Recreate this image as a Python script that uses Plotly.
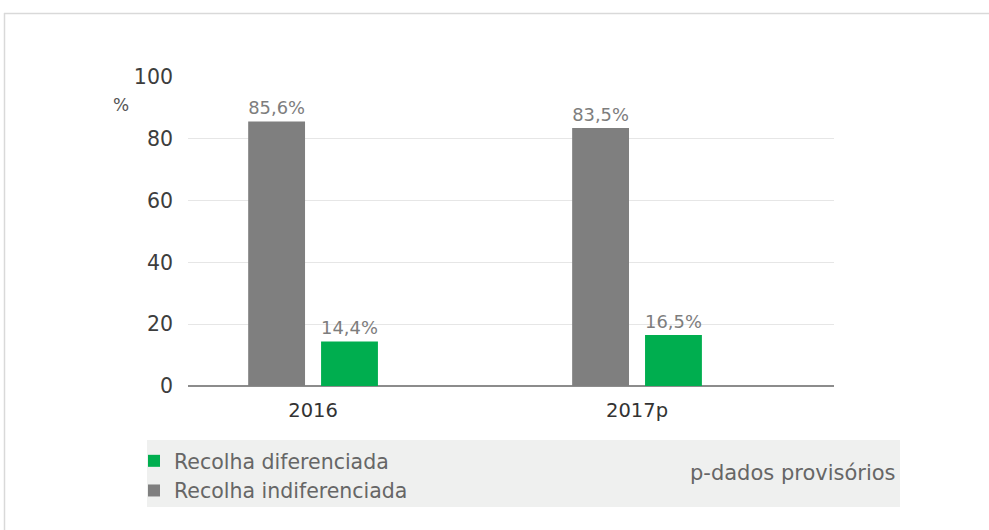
import plotly.graph_objects as go

categories = ["2016", "2017p"]
indiferenciada = [85.6, 83.5]
diferenciada = [14.4, 16.5]
ind_labels = ["85,6%", "83,5%"]
dif_labels = ["14,4%", "16,5%"]
y_ticks = [0, 20, 40, 60, 80, 100]

FONT = "DejaVu Sans"
W, H = 989, 530
# plot area in screen pixels
L, R, T, B = 188, 834, 76, 386
pw, ph = R - L, B - T

def px(x):
    return (x - L) / pw

def py(y):
    return (B - y) / ph

fig = go.Figure()
fig.add_trace(go.Bar(
    x=categories, y=indiferenciada, name="Recolha indiferenciada",
    marker=dict(color="#7f7f7f", line=dict(width=0)),
    text=ind_labels, textposition="outside",
    textfont=dict(family=FONT, size=20.5, color="#7d7d7d"),
))
fig.add_trace(go.Bar(
    x=categories, y=diferenciada, name="Recolha diferenciada",
    marker=dict(color="#00ae4f", line=dict(width=0)),
    text=dif_labels, textposition="outside",
    textfont=dict(family=FONT, size=20.5, color="#7d7d7d"),
))

shapes = [
    # frame
    dict(type="line", xref="paper", yref="paper", x0=px(4), x1=px(995), y0=py(13.5), y1=py(13.5),
         line=dict(color="#d9d9d9", width=1.5)),
    dict(type="line", xref="paper", yref="paper", x0=px(4.5), x1=px(4.5), y0=py(13), y1=py(540),
         line=dict(color="#d9d9d9", width=1.5)),
    # legend box
    dict(type="rect", xref="paper", yref="paper", x0=px(147), x1=px(900), y0=py(440), y1=py(507),
         fillcolor="#eff0ef", line=dict(width=0), layer="below"),
]

fig.update_layout(
    width=W, height=H,
    margin=dict(l=L, r=W - R, t=T, b=H - B, pad=0),
    paper_bgcolor="white", plot_bgcolor="white",
    barmode="group", bargap=0.55, bargroupgap=0.22,
    font=dict(family=FONT, size=19, color="#444"),
    showlegend=True,
    legend=dict(
        traceorder="reversed", orientation="v",
        x=px(134), xanchor="left", y=py(441), yanchor="top",
        bgcolor="rgba(0,0,0,0)", font=dict(family=FONT, size=20.5, color="#666"),
    ),
    shapes=shapes,
    annotations=[
        dict(text="%", xref="paper", yref="paper", x=px(121), y=py(105), showarrow=False,
             xanchor="center", yanchor="middle",
             font=dict(family=FONT, size=17, color="#555")),
        dict(text="p-dados provisórios", xref="paper", yref="paper", x=px(898), y=py(473),
             xanchor="right", yanchor="middle", showarrow=False,
             font=dict(family=FONT, size=21, color="#666")),
    ],
)
fig.update_xaxes(
    type="category", range=[-0.386, 1.608], showgrid=False, zeroline=False,
    showline=False, ticks="", ticklabelstandoff=10,
    tickfont=dict(family=FONT, size=19.5, color="#333"),
)
fig.update_yaxes(
    range=[0, 100.3], tickvals=y_ticks, showgrid=True, gridcolor="#e6e6e6", gridwidth=1,
    zeroline=True, zerolinecolor="#8c8c8c", zerolinewidth=2, showline=False,
    ticks="", ticklabelstandoff=14,
    tickfont=dict(family=FONT, size=20.5, color="#3d3d3d"),
)
for tr in fig.data:
    tr.cliponaxis = False

fig.write_html("out.html", config={"displayModeBar": False},
               post_script="document.body.style.margin='0';")
